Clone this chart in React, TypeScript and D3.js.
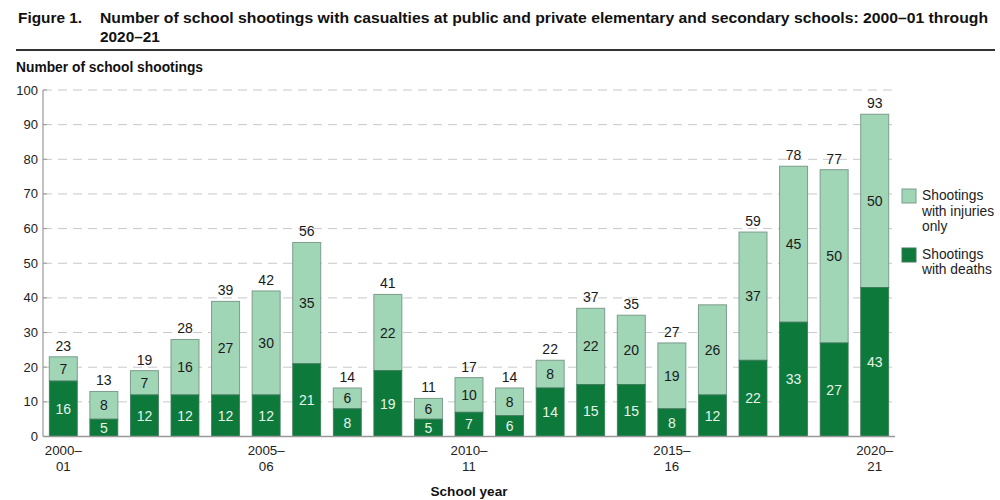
import React from "react";
import * as d3 from "d3";

const years = ["2000–01","2001–02","2002–03","2003–04","2004–05","2005–06","2006–07","2007–08","2008–09","2009–10","2010–11","2011–12","2012–13","2013–14","2014–15","2015–16","2016–17","2017–18","2018–19","2019–20","2020–21"];
const deaths = [16,5,12,12,12,12,21,8,19,5,7,6,14,15,15,8,12,22,33,27,43];
const injuriesOnly = [7,8,7,16,27,30,35,6,22,6,10,8,8,22,20,19,26,37,45,50,50];
const showTotal = [true,true,true,true,true,true,true,true,true,true,true,true,true,true,true,true,false,true,true,true,true];
const labeledYears = ["2000–01","2005–06","2010–11","2015–16","2020–21"];
const yTicks = [0,10,20,30,40,50,60,70,80,90,100];

const DARK = "#0d7a3c";
const LIGHT = "#a0d5b6";
const FONT = "'Liberation Sans', Arial, sans-serif";

export default function App() {
  const x = d3.scaleBand<string>().domain(years).range([43, 895]).paddingInner(0.31).paddingOuter(0.155);
  const y = d3.scaleLinear().domain([0, 100]).range([436.5, 90]);
  const bw = x.bandwidth();

  return (
    <svg width={1000} height={500} style={{ position: "absolute", left: 0, top: 0, background: "#fff" }} fontFamily={FONT}>
      <text x={18} y={23} fontSize={15.4} fontWeight="bold" fill="#111">Figure 1.</text>
      <text x={100} y={23} fontSize={15.4} fontWeight="bold" fill="#111" textLength={888} lengthAdjust="spacingAndGlyphs">Number of school shootings with casualties at public and private elementary and secondary schools: 2000–01 through</text>
      <text x={100} y={42} fontSize={15.4} fontWeight="bold" fill="#111">2020–21</text>
      <line x1={16} x2={995} y1={50} y2={50} stroke="#333" strokeWidth={2} />
      <text x={16} y={72} fontSize={13.8} fontWeight="bold" fill="#111">Number of school shootings</text>

      {yTicks.map(t => (
        <g key={t}>
          {t > 0 && <line x1={43} x2={895} y1={y(t)} y2={y(t)} stroke="#c8c8c8" strokeDasharray="9,6" />}
          <line x1={43} x2={47} y1={y(t)} y2={y(t)} stroke="#999" />
          <text x={38} y={y(t) + 4.5} fontSize={13} textAnchor="end" fill="#222">{t}</text>
        </g>
      ))}

      {years.map((yr, i) => {
        const x0 = x(yr)!;
        const cx = x0 + bw / 2;
        const d = deaths[i];
        const inj = injuriesOnly[i];
        const tot = d + inj;
        return (
          <g key={yr}>
            <rect x={x0} y={y(tot)} width={bw} height={y(d) - y(tot)} fill={LIGHT} stroke="#7d9c8c" strokeWidth={1} />
            <rect x={x0} y={y(d)} width={bw} height={y(0) - y(d)} fill={DARK} stroke="#3f7a5a" strokeWidth={0.8} />
            <text x={cx} y={(y(tot) + y(d)) / 2 + 5} fontSize={14} textAnchor="middle" fill="#1a1a1a">{inj}</text>
            <text x={cx} y={(y(d) + y(0)) / 2 + 5} fontSize={14} textAnchor="middle" fill="#e6f4ea">{d}</text>
            {showTotal[i] && <text x={cx} y={y(tot) - 6} fontSize={14} textAnchor="middle" fill="#1a1a1a">{tot}</text>}
          </g>
        );
      })}

      <line x1={43} x2={43} y1={90} y2={436.5} stroke="#999" strokeWidth={1.2} />
      <line x1={43} x2={895} y1={436.5} y2={436.5} stroke="#999" strokeWidth={1.5} />

      {labeledYears.map(yr => {
        const cx = x(yr)! + bw / 2;
        const [a, b] = yr.split("–");
        return (
          <g key={yr}>
            <text x={cx} y={455} fontSize={13.3} textAnchor="middle" fill="#222">{a}–</text>
            <text x={cx} y={470.5} fontSize={13.3} textAnchor="middle" fill="#222">{b}</text>
          </g>
        );
      })}
      <text x={469} y={496} fontSize={13.6} fontWeight="bold" textAnchor="middle" fill="#111">School year</text>

      <rect x={902} y={189} width={14} height={14} fill={LIGHT} stroke="#7d9c8c" />
      <text fontSize={13.8} fill="#222">
        <tspan x={922} y={200}>Shootings</tspan>
        <tspan x={922} y={215.5}>with injuries</tspan>
        <tspan x={922} y={231}>only</tspan>
      </text>
      <rect x={902} y={248} width={14} height={14} fill={DARK} stroke="#3f7a5a" />
      <text fontSize={13.8} fill="#222">
        <tspan x={922} y={258.5}>Shootings</tspan>
        <tspan x={922} y={274}>with deaths</tspan>
      </text>
    </svg>
  );
}
